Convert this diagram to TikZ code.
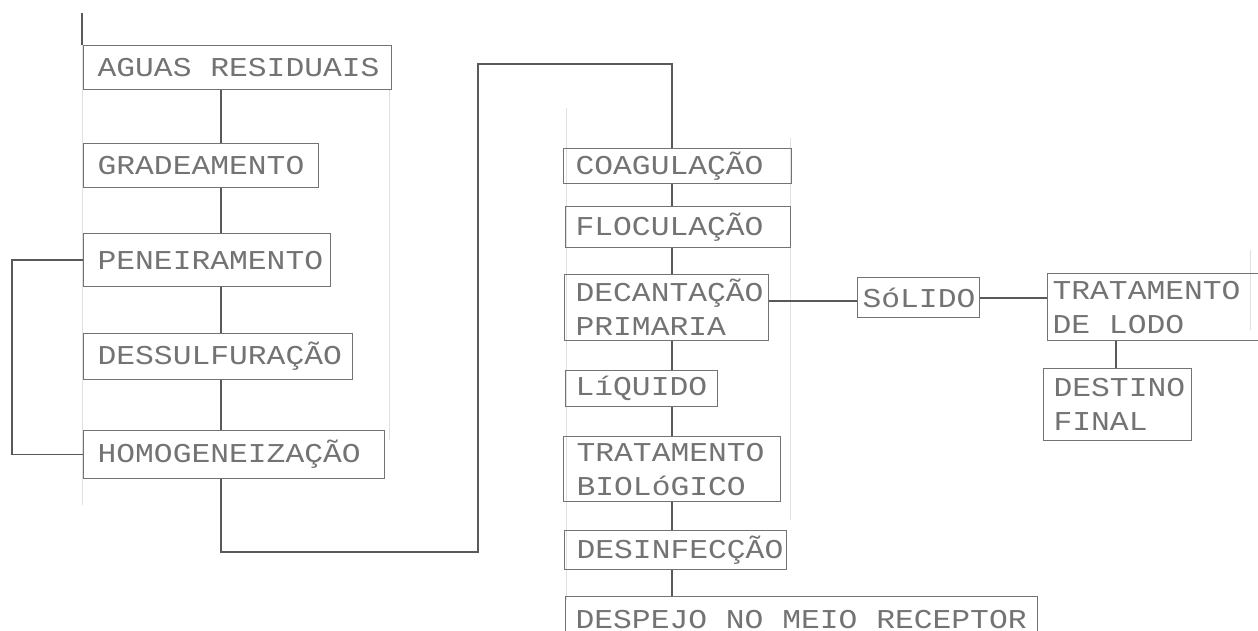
\documentclass[tikz,border=0pt]{standalone}
\usepackage{fontspec}
\newfontfamily\plotterfont[FakeStretch=1.15,WordSpace={1,0,0}]{Liberation Mono}
\usetikzlibrary{positioning,calc}

\begin{document}
\begin{tikzpicture}[x=0.02cm,y=-0.02cm,
  stage/.style={draw=black!55,line width=0.7pt,anchor=north west,inner xsep=0.28cm,
    inner ysep=0pt,align=left,text=black!55,
    font=\plotterfont\fontsize{15.5}{19.3}\selectfont,
    execute at begin node={\spaceskip=0pt\xspaceskip=0pt\hyphenpenalty=10000\hbadness=10000}},
  link/.style={draw=black!65,line width=0.8pt},
  guide/.style={draw=black!12,line width=0.5pt}]
  \useasboundingbox (0,0) rectangle (1258,631);
  % faint guides of the plotter sheet
  \draw[guide] (82,45) -- (82,505);
  \draw[guide] (389,89) -- (389,440);
  \draw[guide] (566,108) -- (566,600);
  \draw[guide] (790,138) -- (790,520);
  \draw[guide] (1250,250) -- (1250,330);
  \draw[link] (82,13) -- (82,45);

  % left column
  \node[stage,text width=5.6cm,minimum height=0.88cm] (agua) at (83,45) {AGUAS~RESIDUAIS};
  \node[stage,text width=4.14cm,minimum height=0.88cm] (grade) at (83,143) {GRADEAMENTO};
  \node[stage,text width=4.38cm,minimum height=1.06cm] (peneira) at (83,233) {PENEIRAMENTO};
  \node[stage,text width=4.82cm,minimum height=0.92cm] (dessulf) at (83,333) {DESSULFURAÇÃO};
  \node[stage,text width=5.46cm,minimum height=0.96cm] (homog) at (83,430) {HOMOGENEIZAÇÃO};

  % middle column
  \node[stage,inner xsep=0.24cm,text width=4.08cm,minimum height=0.70cm] (coag) at (563,148) {COAGULAÇÃO};
  \node[stage,inner xsep=0.20cm,text width=4.1cm,minimum height=0.82cm] (floc) at (565,206) {FLOCULAÇÃO};
  \node[stage,inner xsep=0.22cm,text width=3.64cm,minimum height=1.32cm] (decant) at (564,274) {DECANTAÇÃO\\PRIMARIA};
  \node[stage,inner xsep=0.20cm,text width=2.64cm,minimum height=0.72cm] (liquido) at (565,370) {LíQUIDO};
  \node[stage,inner xsep=0.26cm,text width=3.82cm,minimum height=1.30cm] (tratbio) at (563,436) {TRATAMENTO\\BIOLóGICO};
  \node[stage,inner xsep=0.24cm,text width=3.96cm,minimum height=0.78cm] (desinf) at (564,530) {DESINFECÇÃO};
  \node[stage,inner xsep=0.20cm,text width=9.04cm,minimum height=0.90cm] (despejo) at (565,596) {DESPEJO~NO~MEIO~RECEPTOR};

  % sludge line
  \node[stage,inner xsep=0.10cm,text width=2.24cm,minimum height=0.80cm] (solido) at (857,277) {SóLIDO};
  \node[stage,inner xsep=0.10cm,text width=4.2cm,minimum height=1.34cm] (tratlodo) at (1047,273) {TRATAMENTO\\DE~LODO};
  \node[stage,inner xsep=0.20cm,text width=2.56cm,minimum height=1.44cm] (destino) at (1043,368) {DESTINO\\FINAL};

  \coordinate (spineL) at (221,0);
  \coordinate (spineM) at (672,0);
  \coordinate (loopx) at (12,0);
  \coordinate (low) at (478,552);
  \coordinate (high) at (478,64);

  \foreach \a/\b in {agua/grade,grade/peneira,peneira/dessulf,dessulf/homog}
    \draw[link] (\a.south -| spineL) -- (\b.north -| spineL);
  \foreach \a/\b in {coag/floc,floc/decant,decant/liquido,liquido/tratbio,tratbio/desinf,desinf/despejo}
    \draw[link] (\a.south -| spineM) -- (\b.north -| spineM);

  \draw[link] (peneira.west) -- (peneira.west -| loopx) |- (homog.west);
  \draw[link] (homog.south -| spineL) |- (low) -- (high) -| (coag.north -| spineM);

  \draw[link] (decant.east |- 0,301) -- (solido.west |- 0,301);
  \draw[link] (solido.east |- 0,298) -- (tratlodo.west |- 0,298);
  \draw[link] (tratlodo.south -| 1116,0) -- (destino.north -| 1116,0);
\end{tikzpicture}
\end{document}
